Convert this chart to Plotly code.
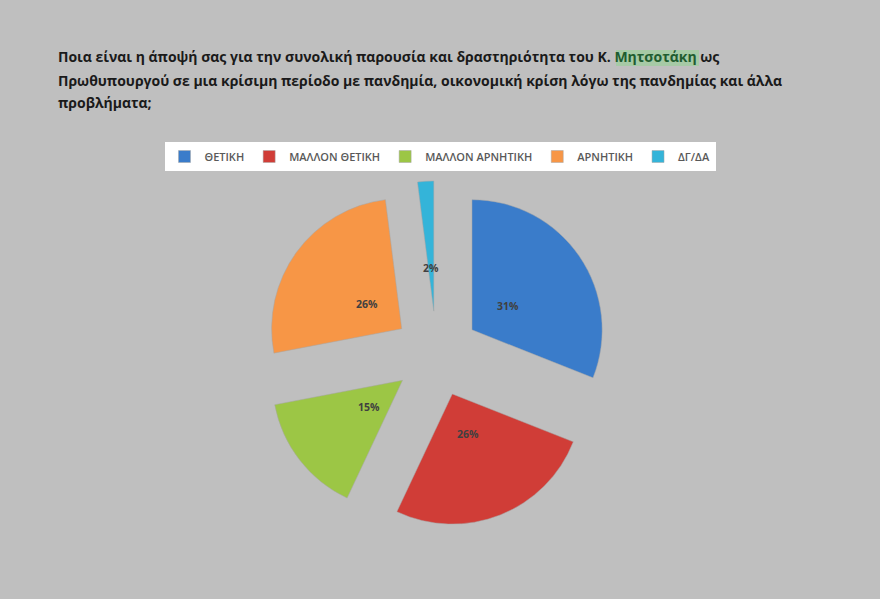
import math
import plotly.graph_objects as go

# survey answers and shares (%)
labels = ["ΘΕΤΙΚΗ", "ΜΑΛΛΟΝ ΘΕΤΙΚΗ", "ΜΑΛΛΟΝ ΑΡΝΗΤΙΚΗ", "ΑΡΝΗΤΙΚΗ", "ΔΓ/ΔΑ"]
values = [31, 26, 15, 26, 2]
colors = ["#3a7cca", "#d03d37", "#9cc645", "#f79646", "#34b4d9"]

title_lines = [
    "Ποια είναι η άποψή σας για την συνολική παρουσία και δραστηριότητα του Κ. "
    "<span style='color:#1f5c30'>Μητσοτάκη</span> ως",
    "Πρωθυπουργού σε μια κρίσιμη περίοδο με πανδημία, οικονομική κρίση λόγω της πανδημίας και άλλα",
    "προβλήματα;",
]

W, H = 880, 599
pull = 0.33
dom_x = [0.299, 0.693]
dom_y = [0.12, 0.698]

fig = go.Figure()
fig.add_trace(go.Pie(
    labels=labels,
    values=values,
    marker=dict(colors=colors, line=dict(color="#a6a6a6", width=0.5)),
    sort=False,
    direction="clockwise",
    rotation=0,
    pull=[pull] * len(values),
    textinfo="none",
    domain=dict(x=dom_x, y=dom_y),
    hoverinfo="label+percent",
))

# percent labels, placed like Excel does: a third of the radius out from each slice tip
cx = (dom_x[0] + dom_x[1]) / 2
cy = (dom_y[0] + dom_y[1]) / 2
r_px = min((dom_x[1] - dom_x[0]) * W, (dom_y[1] - dom_y[0]) * H) / (2 + 2 * pull)
total = sum(values)
annotations = []
cum = 0
for v in values:
    mid = (cum + v / 2) / total * 2 * math.pi
    cum += v
    d = r_px * (pull + 0.33)
    annotations.append(dict(
        text=f"{round(100 * v / total)}%", xref="paper", yref="paper",
        x=cx + d * math.sin(mid) / W, y=cy + d * math.cos(mid) / H,
        xanchor="center", yanchor="middle", showarrow=False,
        font=dict(family="Open Sans", size=10.5, color="#404040", weight="bold"),
    ))

for i, line in enumerate(title_lines):
    annotations.append(dict(
        text=line, xref="paper", yref="paper", x=56 / W, y=1 - (57 + 23 * i) / H,
        xanchor="left", yanchor="middle", showarrow=False, align="left",
        font=dict(family="Open Sans", size=14, color="#1a1a1a", weight="bold"),
    ))

fig.update_layout(
    width=W, height=H,
    margin=dict(l=0, r=0, t=0, b=0),
    paper_bgcolor="#bfbfbf",
    plot_bgcolor="#bfbfbf",
    showlegend=True,
    legend=dict(
        orientation="h", x=0.5, xanchor="center", y=1 - 142 / H, yanchor="top",
        bgcolor="white", traceorder="normal",
        font=dict(family="Open Sans", size=11, color="#595959", weight=600),
        itemwidth=30,
    ),
    annotations=annotations,
    shapes=[dict(
        type="rect", xref="paper", yref="paper", layer="below",
        x0=616 / W, x1=699 / W, y0=1 - 66 / H, y1=1 - 50 / H,
        fillcolor="#a6caa6", line=dict(width=0),
    )],
)

fig.write_html("out.html", config={"displayModeBar": False},
               post_script="document.body.style.margin='0';")
